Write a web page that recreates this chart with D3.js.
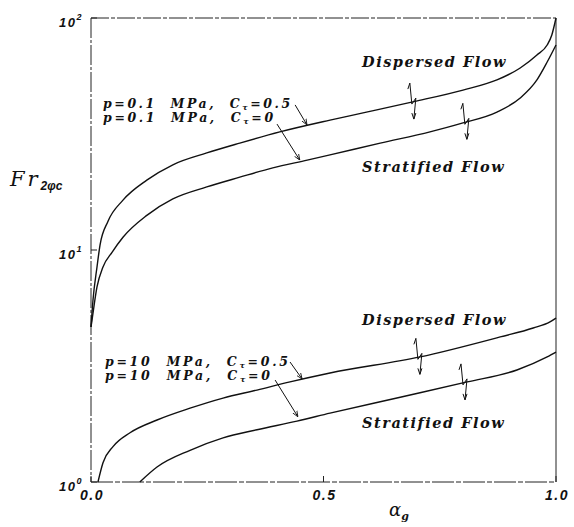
<!DOCTYPE html>
<html>
<head>
<meta charset="utf-8">
<title>Fr2phc vs alpha_g</title>
<script src="https://d3js.org/d3.v7.min.js"></script>
<style>
  body { margin: 0; background: #fff; }
  .curve { fill: none; stroke: #111; stroke-width: 1.4px; }
  .frame { stroke: #222; stroke-width: 1px; }
  .tick-label { font-family: "Liberation Sans", sans-serif; font-weight: bold; font-style: italic; font-size: 14px; letter-spacing: 1.5px; fill: #111; }
  .note { font-family: "DejaVu Serif", serif; font-weight: bold; font-style: italic; font-size: 12.5px; fill: #111; }
  .leader { stroke: #111; stroke-width: 1px; fill: none; }
</style>
</head>
<body>
<div id="chart"></div>
<script>
// curves: [alpha_g, Fr2phc]
const lowP_C05 = [[0,4.66],[0.0043,6.09],[0.0129,8.45],[0.0194,10.5],[0.0366,13.3],[0.0688,16.4],[0.120,20.0],
  [0.176,23.3],[0.249,26.2],[0.320,28.9],[0.406,32.3],[0.514,36.3],[0.585,39.0],[0.692,43.5],[0.800,48.9],
  [0.873,54.1],[0.923,60.9],[0.959,69.3],[0.981,76.5],[0.991,84.5],[1.0,100]];
const lowP_C0 = [[0,4.66],[0.0022,4.99],[0.0129,6.93],[0.0258,8.45],[0.0452,9.77],[0.0688,11.35],[0.120,14.1],
  [0.176,16.6],[0.249,18.7],[0.320,20.6],[0.391,22.6],[0.465,24.4],[0.514,25.7],[0.622,28.9],[0.729,32.3],
  [0.800,35.3],[0.873,39.3],[0.923,45.2],[0.959,54.1],[0.981,64.6],[1.0,76.5]];
const highP_C05 = [[0.015,1.0],[0.0258,1.21],[0.0473,1.42],[0.0839,1.63],[0.142,1.85],[0.213,2.08],[0.284,2.30],
  [0.357,2.49],[0.428,2.70],[0.514,2.95],[0.708,3.46],[0.880,4.22],[0.951,4.61],[0.987,4.90],[1.0,5.09]];
const highP_C0 = [[0.105,1.0],[0.142,1.16],[0.213,1.37],[0.284,1.55],[0.357,1.68],[0.443,1.83],[0.514,1.98],
  [0.665,2.32],[0.809,2.70],[0.916,3.04],[0.981,3.46],[1.0,3.63]];

const xTicks = [0, 0.5, 1.0];
const xTickLabels = ["0.0", "0.5", "1.0"];
const yTicks = [1, 10, 100];
const yTickExp = ["0", "1", "2"];

// annotations: label text, leader start/end in data units
const caseLabels = [
  { p: "0.1", c: "0.5", at: [0.026, 40.8], width: 187, lead: [[0.439, 42.2], [0.4645, 34.6]] },
  { p: "0.1", c: "0",   at: [0.026, 35.6], width: 170, lead: [[0.400, 34.9], [0.449, 24.4]] },
  { p: "10",  c: "0.5", at: [0.030, 3.16], width: 183, lead: [[0.428, 3.29], [0.454, 2.78]] },
  { p: "10",  c: "0",   at: [0.030, 2.76], width: 165, lead: [[0.396, 2.75], [0.445, 1.91]] }
];
const regimeLabels = [
  { text: "Dispersed Flow",  at: [0.583, 61.5] },
  { text: "Stratified Flow", at: [0.583, 21.7] },
  { text: "Dispersed Flow",  at: [0.583, 4.75] },
  { text: "Stratified Flow", at: [0.583, 1.71] }
];
// zigzag boundary markers: alpha on which curve
const zigzags = [[0.690, lowP_C05], [0.804, lowP_C0], [0.703, highP_C05], [0.800, highP_C0]];

const width = 574, height = 527;
const margin = { left: 91, right: 18, top: 18, bottom: 45 };

const svg = d3.select("#chart").append("svg")
  .attr("width", width).attr("height", height);

const x = d3.scaleLinear().domain([0, 1]).range([margin.left, width - margin.right]);
const y = d3.scaleLog().domain([1, 100]).range([height - margin.bottom, margin.top]);

svg.append("defs").append("marker")
  .attr("id", "arr").attr("viewBox", "0 0 10 10")
  .attr("refX", 10).attr("refY", 5)
  .attr("markerWidth", 6).attr("markerHeight", 6)
  .attr("orient", "auto")
  .append("path").attr("d", "M0,1 L10,5 L0,9").attr("fill", "none").attr("stroke", "#111").attr("stroke-width", 1.4);

// frame
const x0 = x(0), x1 = x(1), yb = y(1), yt = y(100);
svg.append("line").attr("class", "frame").attr("x1", x0).attr("x2", x1).attr("y1", yt).attr("y2", yt)
  .attr("stroke-dasharray", "18 2 4 2");
svg.append("line").attr("class", "frame").attr("x1", x0).attr("x2", x1).attr("y1", yb).attr("y2", yb)
  .attr("stroke-dasharray", "22 2 5 2");
svg.append("line").attr("class", "frame").attr("x1", x0).attr("x2", x0).attr("y1", yt).attr("y2", yb)
  .attr("stroke-dasharray", "20 2 3 2");
svg.append("line").attr("class", "frame").attr("x1", x1).attr("x2", x1).attr("y1", yt).attr("y2", yb);

// ticks
svg.selectAll(".ytick").data(yTicks).enter().append("line")
  .attr("class", "frame")
  .attr("x1", x0).attr("x2", x0 + 6)
  .attr("y1", d => y(d)).attr("y2", d => y(d));
svg.selectAll(".xtick").data(xTicks).enter().append("line")
  .attr("class", "frame")
  .attr("x1", d => x(d)).attr("x2", d => x(d))
  .attr("y1", yb).attr("y2", yb - 6);

// tick labels
svg.selectAll(".xlab").data(xTicks).enter().append("text")
  .attr("class", "tick-label")
  .attr("x", d => x(d) + 1).attr("y", yb + 18)
  .attr("text-anchor", "middle")
  .text((d, i) => xTickLabels[i]);

const ylab = svg.selectAll(".ylab").data(yTicks).enter().append("text")
  .attr("class", "tick-label")
  .attr("x", x0 - 8).attr("y", d => y(d) + 9)
  .attr("text-anchor", "end")
  .style("font-size", "13px");
ylab.append("tspan").text("10");
ylab.append("tspan").attr("dy", -7).style("font-size", "9px").text((d, i) => yTickExp[i]);

// axis titles
const yt1 = svg.append("text").attr("x", 10).attr("y", 186)
  .style("font-family", "'DejaVu Serif', serif").style("font-style", "italic").style("fill", "#111");
yt1.append("tspan").style("font-size", "21px").style("letter-spacing", "3px").text("Fr");
yt1.append("tspan").attr("dy", 4).style("font-size", "12px").style("font-weight", "bold")
  .style("font-family", "'Liberation Sans', sans-serif").text("2φc");

const xt = svg.append("text").attr("x", 389).attr("y", 516)
  .style("font-family", "'DejaVu Serif', serif").style("font-style", "italic").style("fill", "#111");
xt.append("tspan").style("font-size", "18px").text("α");
xt.append("tspan").attr("dy", 4).style("font-size", "11px").style("font-weight", "bold").text("g");

// curves
const line = d3.line().x(d => x(d[0])).y(d => y(d[1])).curve(d3.curveMonotoneX);
svg.selectAll(".curve").data([lowP_C05, lowP_C0, highP_C05, highP_C0]).enter().append("path")
  .attr("class", "curve").attr("d", line);

// case labels
caseLabels.forEach(l => {
  const t = svg.append("text").attr("class", "note")
    .attr("x", x(l.at[0])).attr("y", y(l.at[1]))
    .attr("textLength", l.width).attr("lengthAdjust", "spacing")
    .attr("xml:space", "preserve");
  t.append("tspan").text(`p=${l.p}  MPa,  C`);
  t.append("tspan").attr("dy", 2).style("font-size", "8px").text("τ");
  t.append("tspan").attr("dy", -2).text(`=${l.c}`);
  svg.append("line").attr("class", "leader")
    .attr("x1", x(l.lead[0][0])).attr("y1", y(l.lead[0][1]))
    .attr("x2", x(l.lead[1][0])).attr("y2", y(l.lead[1][1]))
    .attr("marker-end", "url(#arr)");
});

// regime labels
regimeLabels.forEach(l => {
  svg.append("text").attr("class", "note")
    .style("font-size", "14.5px").style("letter-spacing", "1.5px")
    .attr("x", x(l.at[0])).attr("y", y(l.at[1]))
    .text(l.text);
});

// zigzag boundary markers
function interpLog(curve, a) {
  for (let i = 1; i < curve.length; i++) {
    if (a <= curve[i][0]) {
      const [a0, f0] = curve[i - 1], [a1, f1] = curve[i];
      const t = (a - a0) / (a1 - a0);
      return Math.exp(Math.log(f0) + t * (Math.log(f1) - Math.log(f0)));
    }
  }
  return curve[curve.length - 1][1];
}
zigzags.forEach(([a, curve]) => {
  const cx = x(a), cy = y(interpLog(curve, a));
  svg.append("path").attr("class", "leader")
    .attr("transform", `translate(${cx},${cy})`)
    .attr("d", "M-4,-13 L-2,-19 L0,2 L4,-4 L2,17 M2,17 L0,11 M2,17 L4,11");
});
</script>
</body>
</html>
